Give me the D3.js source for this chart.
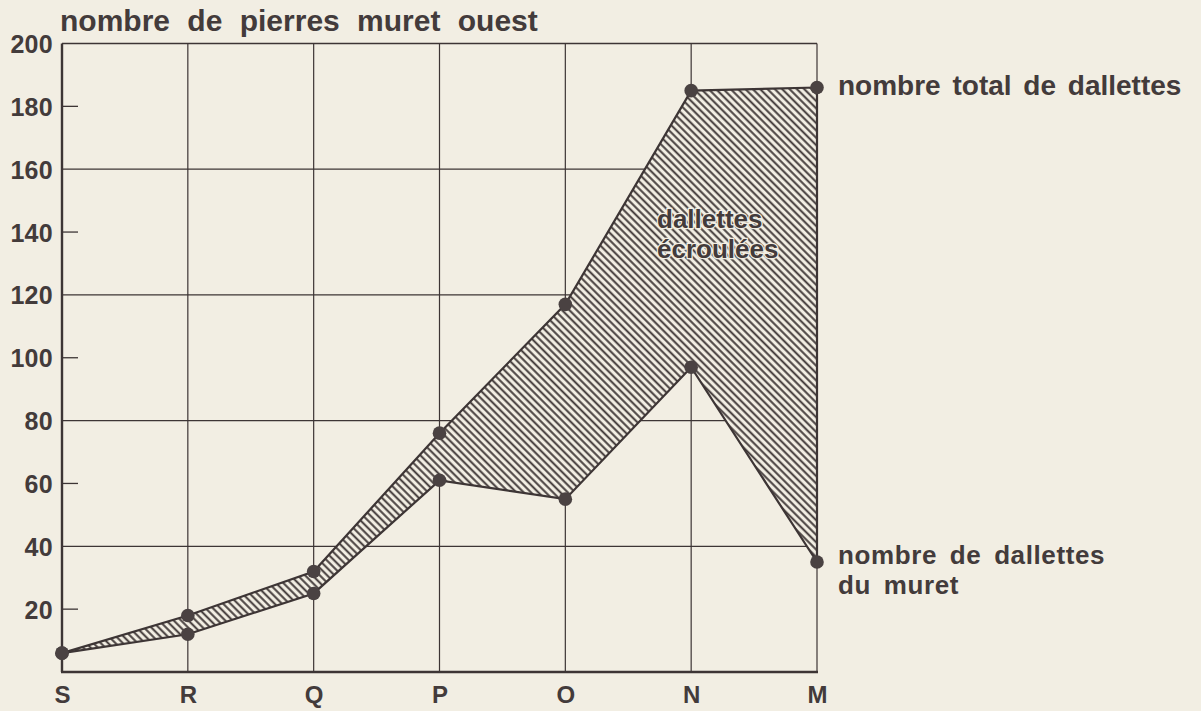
<!DOCTYPE html>
<html>
<head>
<meta charset="utf-8">
<script src="https://cdn.jsdelivr.net/npm/d3@7"></script>
<style>
body{margin:0;background:#f2eee3;}
svg text{font-family:"Liberation Sans",Arial,sans-serif;font-weight:bold;fill:#433b3b;}
</style>
</head>
<body>
<div id="chart"></div>
<script>
// data
const categories=["S","R","Q","P","O","N","M"];
const totalDallettes=[6,18,32,76,117,185,186];
const muretDallettes=[6,12,25,61,55,97,35];
const yTickValues=[20,40,60,80,100,120,140,160,180,200];
const gridValues=[40,80,120,160,200];
const shortTickValues=[20,60,100,140,180];

const W=1201,H=711;
const ink="#3d3535";

let svg=d3.select("#chart").append("svg")
    .attr("width",W)
    .attr("height",H);

svg.append("rect").attr("width",W).attr("height",H).attr("fill","#f2eee3");

let x=d3.scalePoint().domain(categories).range([62,817]);
let y=d3.scaleLinear().domain([0,200]).range([672,43.5]);

//hatch pattern "\\\\"
let defs=svg.append("defs");
let pat=defs.append("pattern")
    .attr("id","hatch")
    .attr("patternUnits","userSpaceOnUse")
    .attr("width",5.2)
    .attr("height",10)
    .attr("patternTransform","rotate(-45)");
pat.append("rect").attr("width",5.2).attr("height",10).attr("fill","#f2eee3");
pat.append("line")
    .attr("x1",1.3).attr("x2",1.3).attr("y1",0).attr("y2",10)
    .attr("stroke",ink).attr("stroke-width",1.9);

//grid
svg.append("g").selectAll("line")
    .data(gridValues)
    .enter().append("line")
    .attr("x1",x("S")).attr("x2",x("M"))
    .attr("y1",d=>y(d)).attr("y2",d=>y(d))
    .attr("stroke",ink).attr("stroke-width",1.3);

svg.append("g").selectAll("line")
    .data(shortTickValues)
    .enter().append("line")
    .attr("x1",x("S")).attr("x2",x("S")+16)
    .attr("y1",d=>y(d)).attr("y2",d=>y(d))
    .attr("stroke",ink).attr("stroke-width",1.3);

svg.append("g").selectAll("line")
    .data(categories)
    .enter().append("line")
    .attr("x1",d=>x(d)).attr("x2",d=>x(d))
    .attr("y1",y(0)).attr("y2",y(200))
    .attr("stroke",ink).attr("stroke-width",d=>d=="S"?2.4:1.2);

svg.append("line")
    .attr("x1",x("S")-1).attr("x2",x("M")+1)
    .attr("y1",y(0)).attr("y2",y(0))
    .attr("stroke",ink).attr("stroke-width",2.4);

//axes labels
let yAxis=svg.append("g")
    .attr("transform","translate("+x("S")+",0)")
    .call(d3.axisLeft(y).tickValues(yTickValues).tickSize(0).tickPadding(9));
yAxis.select(".domain").remove();
yAxis.selectAll("text")
    .style("font-size","25px")
    .style("letter-spacing","0.3px")
    .attr("dy","0.36em");

let xAxis=svg.append("g")
    .attr("transform","translate(0,"+y(0)+")")
    .call(d3.axisBottom(x).tickSize(0).tickPadding(14));
xAxis.select(".domain").remove();
xAxis.selectAll("text")
    .style("font-size","24px");

//hatched band between the two series
let idx=d3.range(categories.length);
let area=d3.area()
    .x(i=>x(categories[i]))
    .y0(i=>y(muretDallettes[i]))
    .y1(i=>y(totalDallettes[i]));

svg.append("path")
    .datum(idx)
    .attr("d",area)
    .attr("fill","url(#hatch)");

let line=d3.line().x(i=>x(categories[i]));
svg.append("path")
    .datum(idx)
    .attr("d",line.y(i=>y(totalDallettes[i])))
    .attr("fill","none").attr("stroke",ink).attr("stroke-width",2.2);
svg.append("path")
    .datum(idx)
    .attr("d",line.y(i=>y(muretDallettes[i])))
    .attr("fill","none").attr("stroke",ink).attr("stroke-width",2.2);
let last=categories.length-1;
svg.append("line")
    .attr("x1",x("M")).attr("x2",x("M"))
    .attr("y1",y(totalDallettes[last])).attr("y2",y(muretDallettes[last]))
    .attr("stroke",ink).attr("stroke-width",2.2);

//dots
svg.append("g").selectAll("circle")
    .data(idx.map(i=>[i,totalDallettes[i]]).concat(idx.map(i=>[i,muretDallettes[i]])))
    .enter().append("circle")
    .attr("cx",d=>x(categories[d[0]]))
    .attr("cy",d=>y(d[1]))
    .attr("r",6.8)
    .attr("fill","#4a4242");

//texts
svg.append("text")
    .attr("x",60).attr("y",31)
    .style("font-size","30px")
    .style("word-spacing","9px")
    .text("nombre de pierres muret ouest");

svg.append("text")
    .attr("x",838).attr("y",y(totalDallettes[last])+8)
    .style("font-size","28px")
    .style("word-spacing","4px")
    .text("nombre total de dallettes");

svg.append("text")
    .attr("x",838).attr("y",564)
    .style("font-size","26px")
    .style("letter-spacing","0.6px")
    .style("word-spacing","5px")
    .text("nombre de dallettes");
svg.append("text")
    .attr("x",838).attr("y",594)
    .style("font-size","26px")
    .style("letter-spacing","0.6px")
    .style("word-spacing","5px")
    .text("du muret");

svg.append("text")
    .attr("x",657).attr("y",228)
    .style("font-size","26px")
    .style("paint-order","stroke")
    .attr("stroke","#f2eee3").attr("stroke-width",2.5)
    .text("dallettes");
svg.append("text")
    .attr("x",657).attr("y",258)
    .style("font-size","26px")
    .style("paint-order","stroke")
    .attr("stroke","#f2eee3").attr("stroke-width",2.5)
    .text("écroulées");
</script>
</body>
</html>
